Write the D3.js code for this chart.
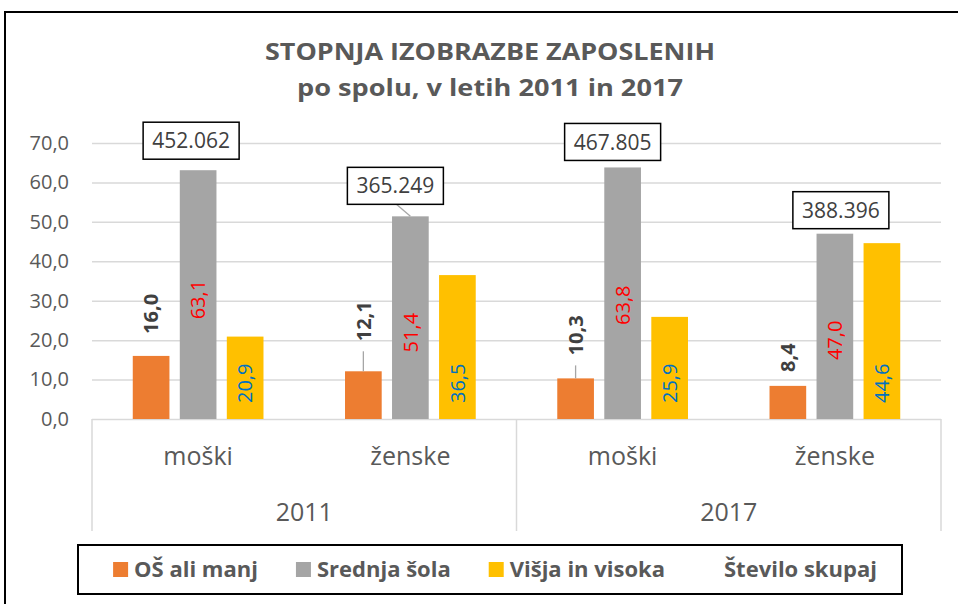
<!DOCTYPE html>
<html>
<head>
<meta charset="utf-8">
<script src="https://cdn.jsdelivr.net/npm/d3@7"></script>
<style>
body { margin: 0; background: #fff; }
#canvas { width: 958px; height: 604px; }
text { font-family: "Open Sans", sans-serif; }
</style>
</head>
<body>
<div id="canvas" class="canvas"></div>
<script>
// data
var years = ["2011", "2017"];
var genders = ["moški", "ženske"];
var seriesNames = ["OŠ ali manj", "Srednja šola", "Višja in visoka", "Število skupaj"];
var osAliManj = [16.0, 12.1, 10.3, 8.4];
var srednjaSola = [63.1, 51.4, 63.8, 47.0];
var visjaInVisoka = [20.9, 36.5, 25.9, 44.6];
var steviloSkupaj = [452062, 365249, 467805, 388396];
var yTicks = [0, 10, 20, 30, 40, 50, 60, 70];
var colors = ["#ED7D31", "#A5A5A5", "#FFC000"];

// manual label nudges (as in the original, labels were dragged a bit)
var orangeGap = [22, 30, 23, 14];
var orangeLeader = [false, true, true, false];
var grayShift = [5, 15, 12, 14];
var boxShift = [[-7, -11], [-15, -12], [-10, -7], [6, -5]];
var boxLeader = [false, true, false, false];

var w = 958, h = 604;
var plotLeft = 92, plotRight = 941, plotTop = 143, plotBottom = 419;

var loc = d3.formatLocale({decimal: ",", thousands: ".", grouping: [3], currency: ["", "€"]});
var fmt1 = loc.format(".1f");
var fmtTotal = loc.format(",d");

var paper = d3.select(".canvas")
	.append("svg")
	.attr("width", w)
	.attr("height", h);

// chart border
paper.append("rect")
	.attr("x", 5)
	.attr("y", 12)
	.attr("width", 1000)
	.attr("height", 1000)
	.style("fill", "none")
	.style("stroke", "#000")
	.style("stroke-width", 2);

// title
var titles = ["STOPNJA IZOBRAZBE ZAPOSLENIH", "po spolu, v letih 2011 in 2017"];
var titleY = [60, 96];
var titleLen = [450, 386];
titles.forEach(function(t, i) {
	paper.append("text")
		.attr("x", 490)
		.attr("y", titleY[i])
		.attr("text-anchor", "middle")
		.attr("textLength", titleLen[i])
		.attr("lengthAdjust", "spacingAndGlyphs")
		.style("font-size", "24px")
		.style("font-weight", "bold")
		.style("fill", "#595959")
		.text(t);
});

// scales
var cats = [];
years.forEach(function(yr) { genders.forEach(function(g) { cats.push(yr + "|" + g); }); });

var y = d3.scaleLinear().domain([0, 70]).range([plotBottom, plotTop]);
var x0 = d3.scaleBand().domain(cats).range([plotLeft, plotRight]).padding(0);
var x1 = d3.scaleBand().domain(seriesNames.slice(0, 3)).range([0, x0.bandwidth()])
	.paddingInner(0.22).paddingOuter(0.867);
var xYear = d3.scaleBand().domain(years).range([plotLeft, plotRight]).padding(0);

// y axis + gridlines
var yAxis = paper.append("g")
	.attr("transform", "translate(" + plotLeft + ",0)")
	.call(d3.axisLeft(y).tickValues(yTicks).tickSize(-(plotRight - plotLeft)).tickPadding(23).tickFormat(fmt1));
yAxis.select(".domain").remove();
yAxis.selectAll("line").style("stroke", "#D9D9D9").style("stroke-width", 1.5);
yAxis.selectAll("text")
	.style("font-size", "20px")
	.style("fill", "#595959")
	.style("font-family", "Open Sans");

// category axis separators
var seps = years.map(function(d) { return xYear(d); }).concat([plotRight]);
seps.forEach(function(sx) {
	paper.append("line")
		.attr("x1", sx).attr("x2", sx)
		.attr("y1", plotBottom).attr("y2", 531)
		.style("stroke", "#D9D9D9")
		.style("stroke-width", 1.5);
});

cats.forEach(function(c) {
	paper.append("text")
		.attr("x", x0(c) + x0.bandwidth() / 2)
		.attr("y", 465)
		.attr("text-anchor", "middle")
		.style("font-size", "25px")
		.style("fill", "#595959")
		.text(c.split("|")[1]);
});
years.forEach(function(yr) {
	paper.append("text")
		.attr("x", xYear(yr) + xYear.bandwidth() / 2)
		.attr("y", 521)
		.attr("text-anchor", "middle")
		.style("font-size", "25px")
		.style("fill", "#595959")
		.text(yr);
});

// bars
var seriesVals = [osAliManj, srednjaSola, visjaInVisoka];
seriesVals.forEach(function(vals, s) {
	paper.selectAll(".bar" + s)
		.data(vals)
		.enter()
		.append("rect")
		.attr("class", "bar" + s)
		.attr("x", function(d, i) { return x0(cats[i]) + x1(seriesNames[s]); })
		.attr("y", function(d) { return y(d); })
		.attr("width", x1.bandwidth())
		.attr("height", function(d) { return y(0) - y(d); })
		.style("fill", colors[s]);
});

function cx(i, s) { return x0(cats[i]) + x1(seriesNames[s]) + x1.bandwidth() / 2; }

// orange labels, outside end
osAliManj.forEach(function(v, i) {
	var start = y(v) - orangeGap[i];
	paper.append("text")
		.attr("transform", "translate(" + cx(i, 0) + "," + start + ") rotate(-90)")
		.attr("dy", "0.36em")
		.attr("text-anchor", "start")
		.style("font-size", "20px")
		.style("font-weight", "bold")
		.style("fill", "#404040")
		.text(fmt1(v));
	if (orangeLeader[i]) {
		paper.append("line")
			.attr("x1", cx(i, 0)).attr("x2", cx(i, 0))
			.attr("y1", start + 10)
			.attr("y2", y(v))
			.style("stroke", "#A6A6A6")
			.style("stroke-width", 1.3);
	}
});

// gray labels, centred
srednjaSola.forEach(function(v, i) {
	paper.append("text")
		.attr("transform", "translate(" + cx(i, 1) + "," + ((y(v) + y(0)) / 2 + grayShift[i]) + ") rotate(-90)")
		.attr("dy", "0.36em")
		.attr("text-anchor", "middle")
		.style("font-size", "20px")
		.style("fill", "#FF0000")
		.text(fmt1(v));
});

// yellow labels, inside base
visjaInVisoka.forEach(function(v, i) {
	paper.append("text")
		.attr("transform", "translate(" + cx(i, 2) + "," + (y(0) - 16) + ") rotate(-90)")
		.attr("dy", "0.36em")
		.attr("text-anchor", "start")
		.style("font-size", "20px")
		.style("fill", "#0070C0")
		.text(fmt1(v));
});

// totals in boxes above the gray bars
steviloSkupaj.forEach(function(v, i) {
	var bx = cx(i, 1) + boxShift[i][0];
	var bb = y(srednjaSola[i]) + boxShift[i][1];
	var bw = 96, bh = 37;
	if (boxLeader[i]) {
		paper.append("line")
			.attr("x1", bx + 1).attr("y1", bb)
			.attr("x2", cx(i, 1)).attr("y2", y(srednjaSola[i]))
			.style("stroke", "#A6A6A6")
			.style("stroke-width", 1.3);
	}
	paper.append("rect")
		.attr("x", bx - bw / 2)
		.attr("y", bb - bh)
		.attr("width", bw)
		.attr("height", bh)
		.style("fill", "#fff")
		.style("stroke", "#000")
		.style("stroke-width", 1.5);
	paper.append("text")
		.attr("x", bx)
		.attr("y", bb - bh / 2)
		.attr("dy", "0.36em")
		.attr("text-anchor", "middle")
		.style("font-size", "21px")
		.style("fill", "#404040")
		.text(fmtTotal(v));
});

// legend
paper.append("rect")
	.attr("x", 78)
	.attr("y", 545)
	.attr("width", 824)
	.attr("height", 49)
	.style("fill", "#fff")
	.style("stroke", "#000")
	.style("stroke-width", 2);

var legend = paper.append("g");
var lx = 0, gap = 38;
seriesNames.forEach(function(name, s) {
	if (colors[s]) {
		legend.append("rect")
			.attr("x", lx)
			.attr("y", 562)
			.attr("width", 15)
			.attr("height", 15)
			.style("fill", colors[s]);
	}
	var t = legend.append("text")
		.attr("x", lx + 21)
		.attr("y", 577)
		.style("font-size", "22px")
		.style("font-weight", "bold")
		.style("fill", "#595959")
		.text(name);
	lx += 21 + t.node().getComputedTextLength() + gap;
});
lx -= gap;
legend.attr("transform", "translate(" + (495 - lx / 2) + ",0)");
</script>
</body>
</html>
